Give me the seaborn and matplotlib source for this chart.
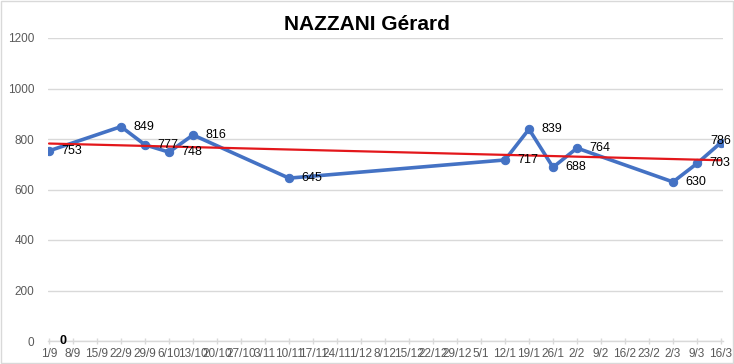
import numpy as np
import pandas as pd
import matplotlib
matplotlib.use("Agg")
import matplotlib.pyplot as plt
import matplotlib.dates as mdates
import seaborn as sns

title = "NAZZANI Gérard"
dates = ["2014-09-01", "2014-09-22", "2014-09-29", "2014-10-06", "2014-10-13",
         "2014-11-10", "2015-01-12", "2015-01-19", "2015-01-26", "2015-02-02",
         "2015-03-02", "2015-03-09", "2015-03-16"]
values = [753, 849, 777, 748, 816, 645, 717, 839, 688, 764, 630, 703, 786]
zero_dates = ["2014-09-01"]
zero_values = [0]
y_ticks = [0, 200, 400, 600, 800, 1000, 1200]

df = pd.DataFrame({"date": pd.to_datetime(dates), "value": values})
zdf = pd.DataFrame({"date": pd.to_datetime(zero_dates), "value": zero_values})

sns.set_theme(style="white")
plt.rcParams["font.family"] = ["Liberation Sans", "DejaVu Sans"]

fig = plt.figure(figsize=(7.34, 3.64), dpi=100)
ax = fig.add_axes([48 / 734, (364 - 341) / 364, 675 / 734, (341 - 38) / 364])

blue = "#4472C4"
sns.lineplot(data=df, x="date", y="value", ax=ax, color=blue, linewidth=2.6,
             marker="o", markersize=6, markeredgecolor=blue, zorder=3)

# linear trend line
xnum = mdates.date2num(df["date"])
coef = np.polyfit(xnum, df["value"], 1)
xt = np.array([xnum.min(), xnum.max()])
ax.plot(mdates.num2date(xt), np.polyval(coef, xt), color="#E3171B", linewidth=1.6, zorder=4)

# data labels
n = len(df)
for i, (d, v) in enumerate(zip(df["date"], df["value"])):
    if i == n - 1:
        ax.annotate(str(v), (d, v), xytext=(0, 1), textcoords="offset points",
                    ha="center", va="center", fontsize=9, color="black", zorder=5,
                    annotation_clip=False)
    else:
        ax.annotate(str(v), (d, v), xytext=(9, 0), textcoords="offset points",
                    ha="left", va="center", fontsize=9, color="black", zorder=5)
for d, v in zip(zdf["date"], zdf["value"]):
    ax.annotate(str(v), (d, v), xytext=(10, 0), textcoords="offset points",
                ha="center", va="center", fontsize=9, fontweight="bold",
                color="black", zorder=5, annotation_clip=False)

# axes
start = mdates.date2num(pd.Timestamp("2014-09-01"))
end = mdates.date2num(pd.Timestamp("2015-03-16"))
ppd = 672 / (end - start)
ax.set_xlim(start - 1 / ppd, end + 2 / ppd)
ax.set_ylim(0, 1200)
ax.set_yticks(y_ticks)
ax.set_xticks(pd.date_range("2014-09-01", "2015-03-16", freq="7D"))
ax.xaxis.set_major_formatter(mdates.DateFormatter("%-d/%-m"))

ax.grid(axis="y", color="#D9D9D9", linewidth=1)
ax.grid(axis="x", visible=False)
for s in ["top", "right", "left"]:
    ax.spines[s].set_visible(False)
ax.spines["bottom"].set_color("#D9D9D9")
ax.spines["bottom"].set_linewidth(1)
ax.tick_params(axis="x", colors="#595959", labelsize=8.5, length=4, width=1,
               direction="inout", pad=3, bottom=True)
ax.tick_params(axis="x", color="#D9D9D9")
ax.tick_params(axis="y", colors="#595959", labelsize=8.5, length=0, pad=10)
ax.set_xlabel("")
ax.set_ylabel("")

fig.text(0.5, 1 - 24 / 364, title, ha="center", va="center", fontsize=15,
         fontweight="bold", color="black")

fig.patches.append(plt.Rectangle((0.001, 0.002), 0.997, 0.995, transform=fig.transFigure,
                                 fill=False, edgecolor="#D9D9D9", linewidth=1))

fig.savefig("out.png", dpi=100, facecolor="white")
